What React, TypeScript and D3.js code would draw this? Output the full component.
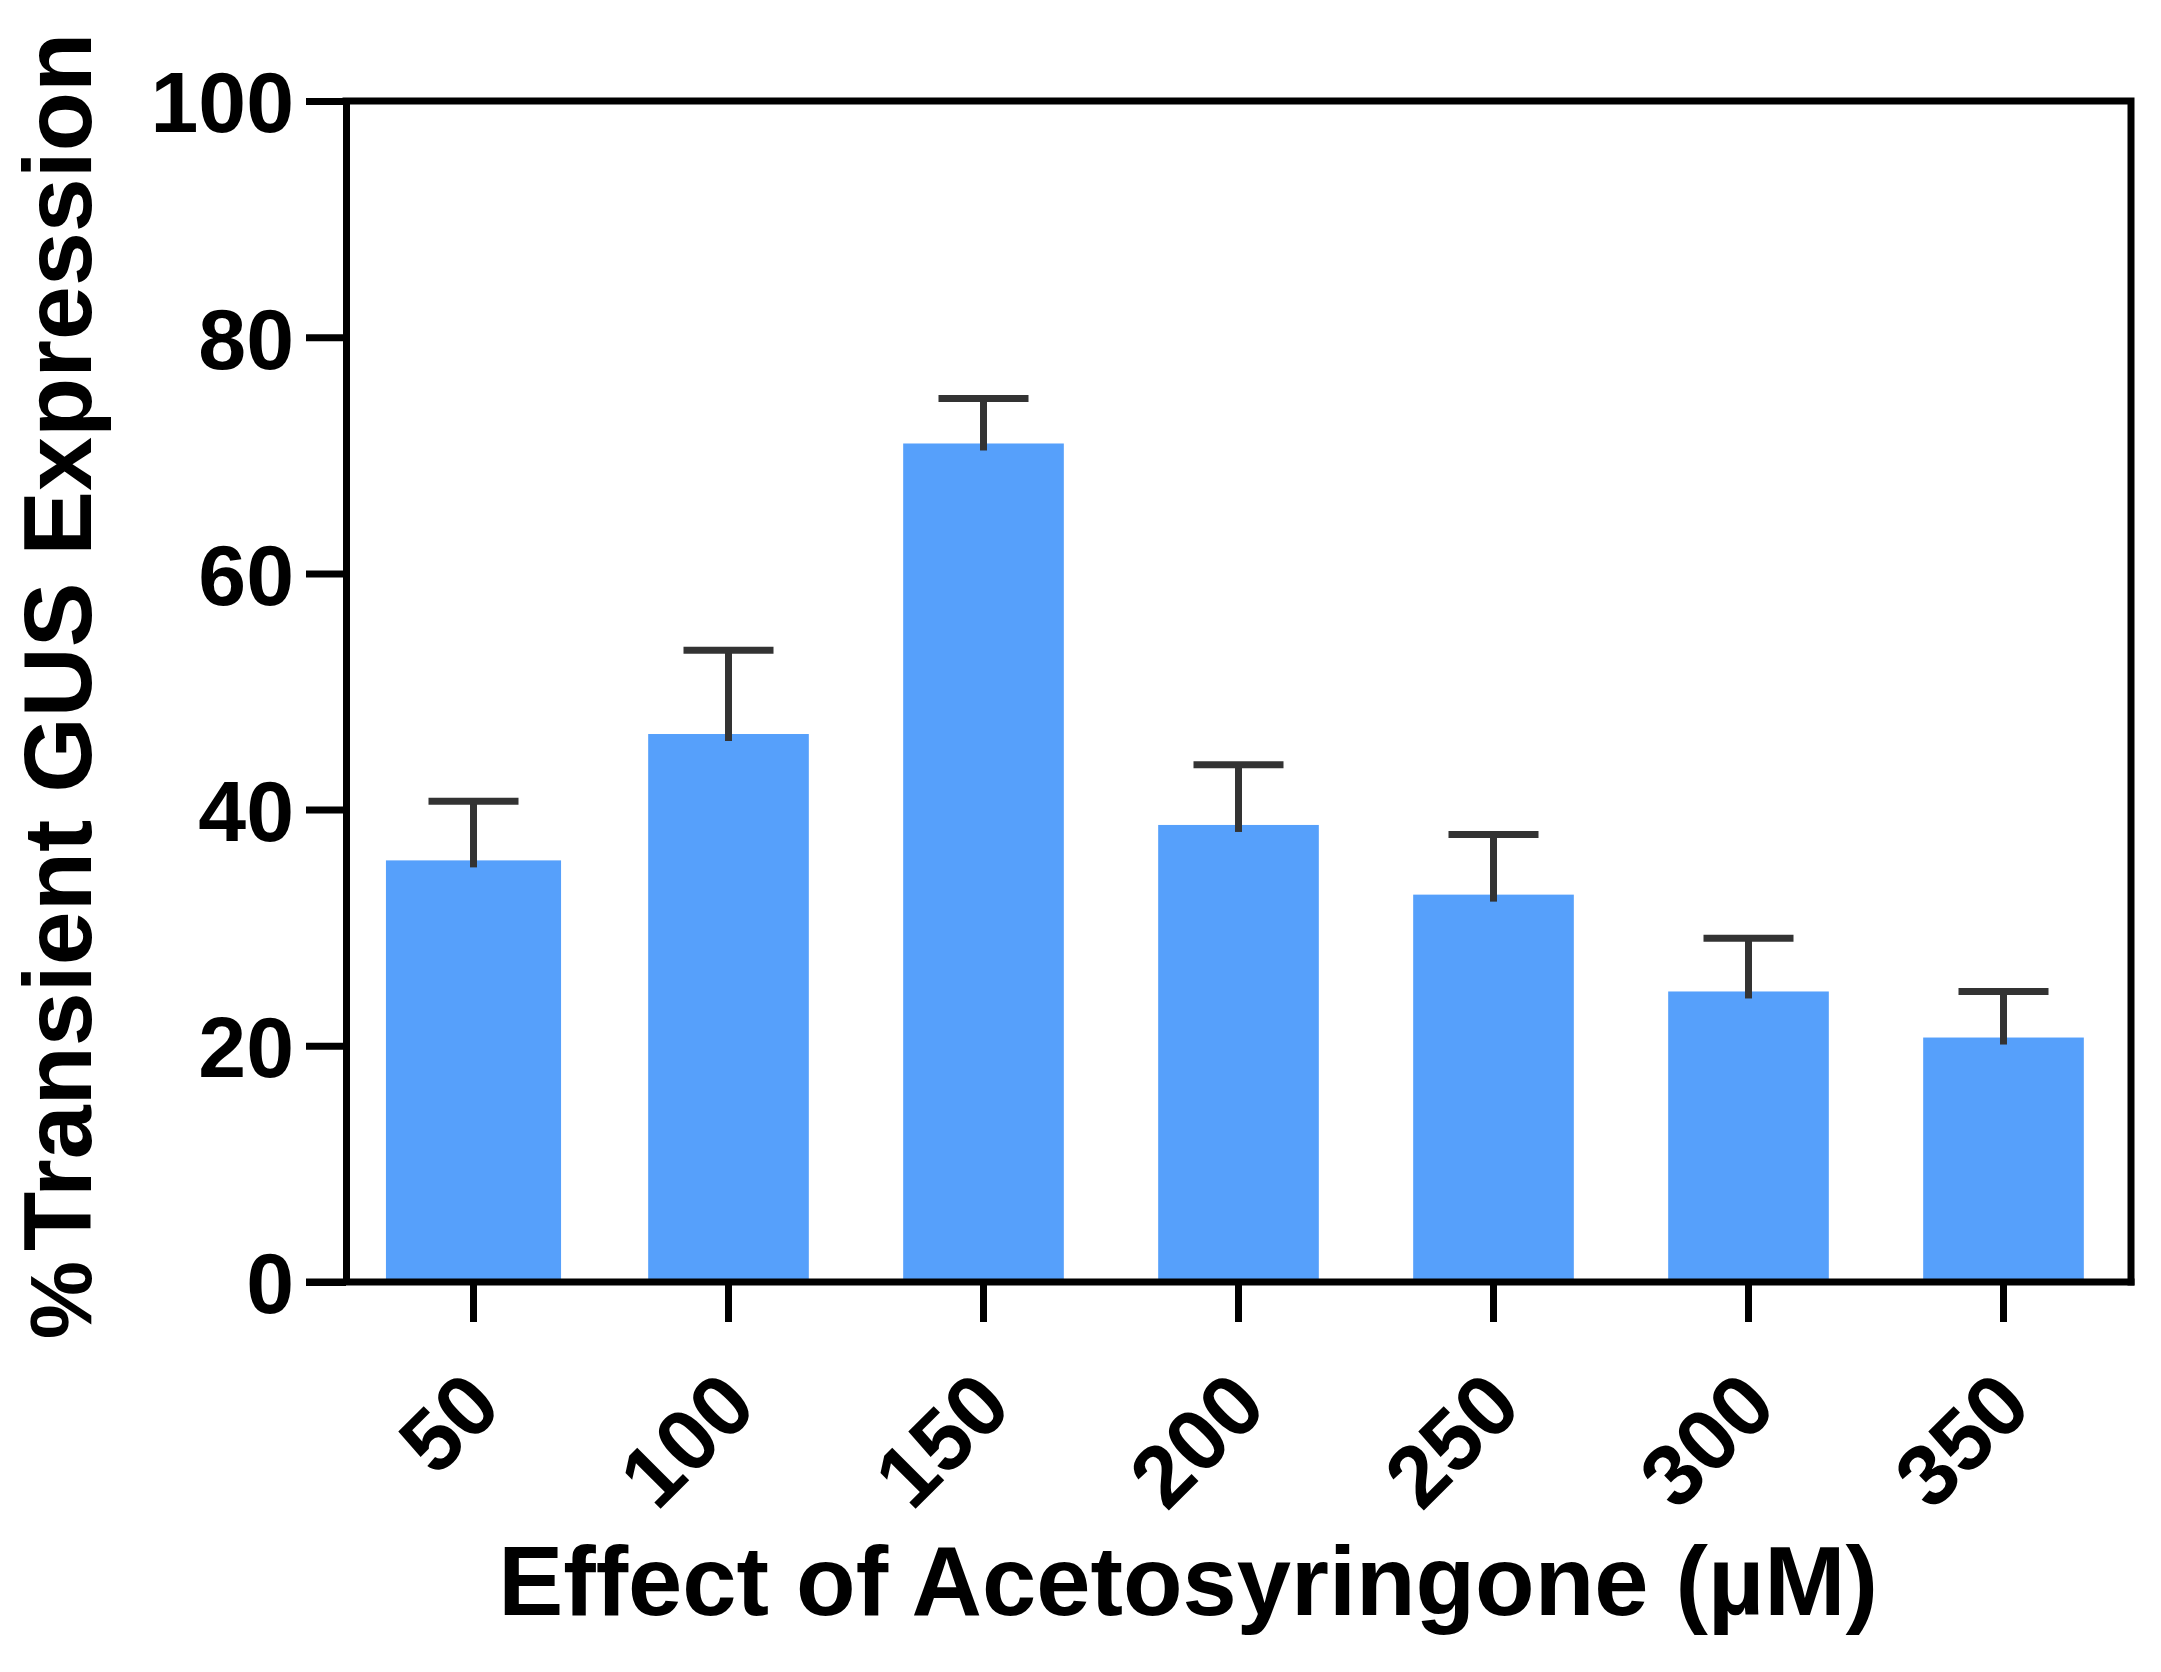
import { useEffect, useRef } from "react";
import * as d3 from "d3";

const categories = ["50", "100", "150", "200", "250", "300", "350"];
const means = [35.7, 46.4, 71.0, 38.7, 32.8, 24.6, 20.7];
const errors = [5.0, 7.1, 3.8, 5.1, 5.1, 4.5, 3.9];
const yTicks = [0, 20, 40, 60, 80, 100];

const xTitle = "Effect of Acetosyringone (\u00b5M)";
const yTitle = "Transient GUS Expression";

export default function App() {
  const svgRef = useRef<SVGSVGElement>(null);

  useEffect(() => {
    const svg = d3.select(svgRef.current);
    svg.selectAll("*").remove();

    const width = 2161;
    const height = 1672;
    const margin = { top: 101, right: 30, bottom: 390, left: 346 };
    const W = width - margin.left - margin.right;
    const H = height - margin.top - margin.bottom;
    const font = "'Liberation Sans', Arial, sans-serif";

    const x = d3.scaleBand<string>().domain(categories).range([0, W])
      .paddingInner(0.37).paddingOuter(0.185);
    const y = d3.scaleLinear().domain([0, 100]).range([H, 0]);

    svg.attr("width", width).attr("height", height);
    svg.append("rect").attr("width", width).attr("height", height).attr("fill", "#fff");

    const g = svg.append("g").attr("transform", `translate(${margin.left},${margin.top})`);

    // first bar is drawn a little wider in the original
    const barW = (i: number) => x.bandwidth() * (i === 0 ? 1.09 : 1);

    g.selectAll(".bar").data(means).enter().append("rect")
      .attr("x", (d, i) => x(categories[i])! + x.bandwidth() / 2 - barW(i) / 2)
      .attr("y", d => y(d))
      .attr("width", (d, i) => barW(i))
      .attr("height", d => H - y(d))
      .attr("fill", "#56a0fb");

    // Error bars (upper only)
    const capW = 90;
    means.forEach((m, i) => {
      const cx = x(categories[i])! + x.bandwidth() / 2;
      g.append("line")
        .attr("x1", cx).attr("x2", cx)
        .attr("y1", y(m) + 7).attr("y2", y(m + errors[i]))
        .attr("stroke", "#333").attr("stroke-width", 7);
      g.append("line")
        .attr("x1", cx - capW / 2).attr("x2", cx + capW / 2)
        .attr("y1", y(m + errors[i])).attr("y2", y(m + errors[i]))
        .attr("stroke", "#333").attr("stroke-width", 7);
    });

    // Y axis
    g.append("g")
      .call(d3.axisLeft(y).tickValues(yTicks).tickSize(40).tickSizeOuter(0).tickPadding(12))
      .call(ax => ax.select(".domain").attr("stroke", "#000").attr("stroke-width", 7))
      .call(ax => ax.selectAll(".tick line").attr("stroke", "#000").attr("stroke-width", 7))
      .call(ax => ax.selectAll(".tick text")
        .attr("fill", "#000").attr("font-size", 86).attr("font-weight", "bold")
        .attr("font-family", font).attr("dy", "0.36em"));

    // Frame top and right
    g.append("path")
      .attr("d", `M0,0H${W}V${H}`)
      .attr("fill", "none").attr("stroke", "#000").attr("stroke-width", 7)
      .attr("stroke-linecap", "square");

    // X axis
    g.append("g").attr("transform", `translate(0,${H})`)
      .call(d3.axisBottom(x).tickSize(40).tickSizeOuter(0))
      .call(ax => ax.select(".domain").attr("stroke", "#000").attr("stroke-width", 7)
        .attr("d", `M-40,0H${W + 3.5}`))
      .call(ax => ax.selectAll(".tick line").attr("stroke", "#000").attr("stroke-width", 7))
      .call(ax => ax.selectAll(".tick text")
        .attr("fill", "#000").attr("font-size", 87).attr("font-weight", "bold")
        .attr("font-family", font)
        .attr("text-anchor", "end")
        .attr("dy", null)
        .attr("y", null)
        .attr("transform", "translate(31,128) rotate(-45)"));

    // X title
    svg.append("text")
      .attr("x", 1188).attr("y", 1615)
      .attr("text-anchor", "middle")
      .attr("font-size", 97.5).attr("font-weight", "bold").attr("font-family", font)
      .attr("fill", "#000")
      .text(xTitle);

    // Y title
    const yt = svg.append("text")
      .attr("transform", `translate(91,686) rotate(-90)`)
      .attr("text-anchor", "middle")
      .attr("font-size", 97).attr("font-weight", "bold").attr("font-family", font)
      .attr("fill", "#000");
    yt.append("tspan").attr("font-size", 88).text("%");
    yt.append("tspan").attr("dx", 10).text(yTitle);
  }, []);

  return <svg ref={svgRef} style={{ position: "absolute", left: 0, top: 0, display: "block" }} />;
}
